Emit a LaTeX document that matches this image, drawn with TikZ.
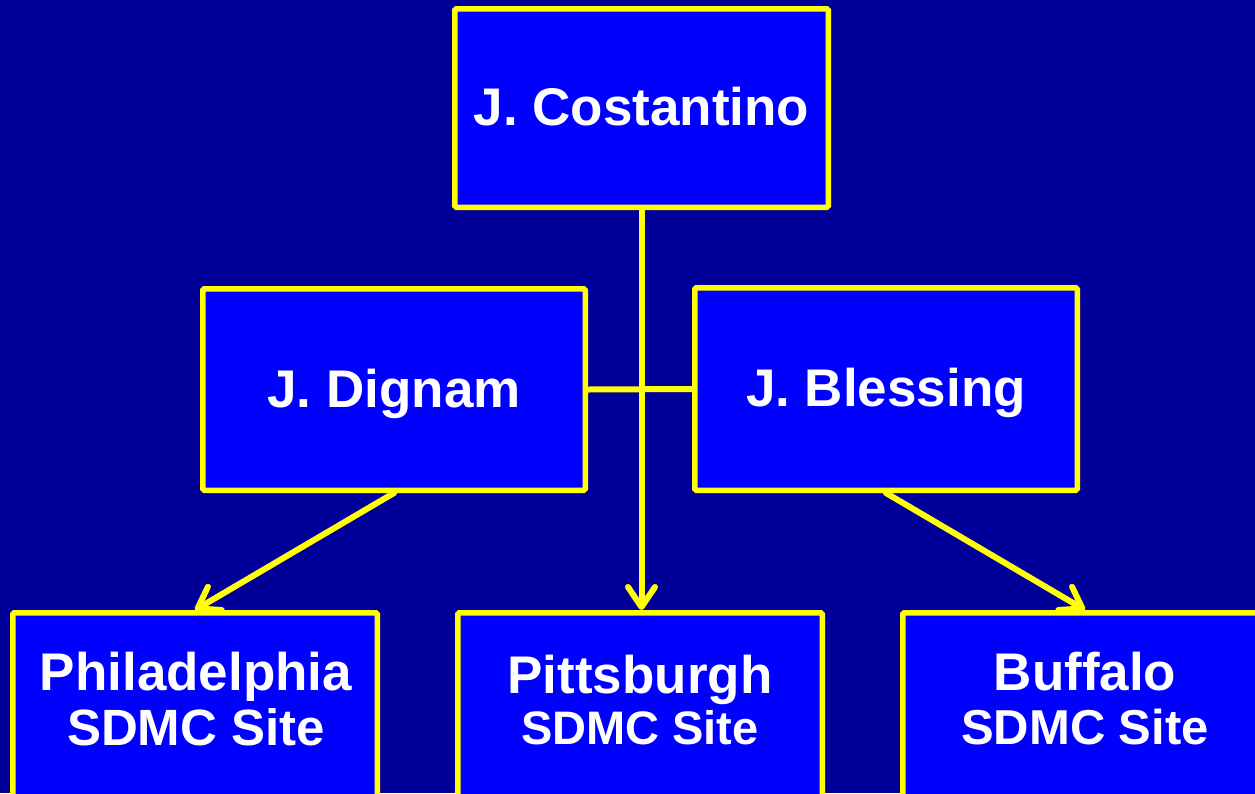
\documentclass[tikz,border=0pt]{standalone}
\usepackage{fontspec}
\setmainfont{Liberation Sans}
\usetikzlibrary{arrows.meta}
\definecolor{bgblue}{HTML}{000099}
\definecolor{boxblue}{HTML}{0000FF}
\definecolor{ylw}{HTML}{FFFF00}
\begin{document}
\begin{tikzpicture}[x=1pt,y=-1pt,
  box/.style={draw=ylw, fill=boxblue, line width=5.5pt, rounded corners=1.5pt,
    text=white, font=\bfseries\fontsize{53pt}{58pt}\selectfont, inner sep=0pt},
  toptext/.style={text height=35pt, text depth=0pt},
  sitetext/.style={text=white, inner sep=0pt, anchor=base, align=center},
  link/.style={draw=ylw, line width=6pt, line cap=round},
  tip/.style={-{Straight Barb[length=20pt,width=27pt,line width=6pt,round]}}]
\useasboundingbox (0,0) rectangle (1255,793);
\fill[bgblue] (0,0) rectangle (1255,793);
\begin{scope}
\clip (0,0) rectangle (1255,793);
% boxes
\node[box, toptext, minimum width=373.5pt, minimum height=198.5pt] (cost) at (641.5,108) {J. Costantino};
\node[box, toptext, minimum width=382.5pt, minimum height=201.5pt] (dig) at (394,389.5) {J. Dignam};
\node[box, toptext, minimum width=382.5pt, minimum height=202.5pt] (bles) at (886,389) {J. Blessing};
\node[box, minimum width=364.5pt, minimum height=320pt, anchor=north] (ph) at (195,610) {};
\node[box, minimum width=364.5pt, minimum height=320pt, anchor=north] (pb) at (640,610) {};
\node[box, minimum width=364.5pt, minimum height=320pt, anchor=north] (bf) at (1085,610) {};
% texts of the site boxes
\node[sitetext, font=\bfseries\fontsize{53pt}{55pt}\selectfont] (phtext) at (196,745)
  {Philadelphia\\\fontsize{51pt}{55pt}\selectfont SDMC Site};
\node[sitetext, font=\bfseries\fontsize{53pt}{51pt}\selectfont] (pbtext) at (640,744)
  {Pittsburgh\\\fontsize{47pt}{51pt}\selectfont SDMC Site};
\node[sitetext, font=\bfseries\fontsize{53pt}{54pt}\selectfont] (bftext) at (1085,744)
  {Buffalo\\\fontsize{49pt}{54pt}\selectfont SDMC Site};
% connectors
\draw[link] (dig.east) -- (bles.west);
\draw[link, tip] (cost.south) -- (cost.south |- pb.north);
\draw[link, tip] (dig.south) -- (ph.north);
\draw[link, tip] (bles.south) -- (bf.north);
\end{scope}
\end{tikzpicture}
\end{document}
